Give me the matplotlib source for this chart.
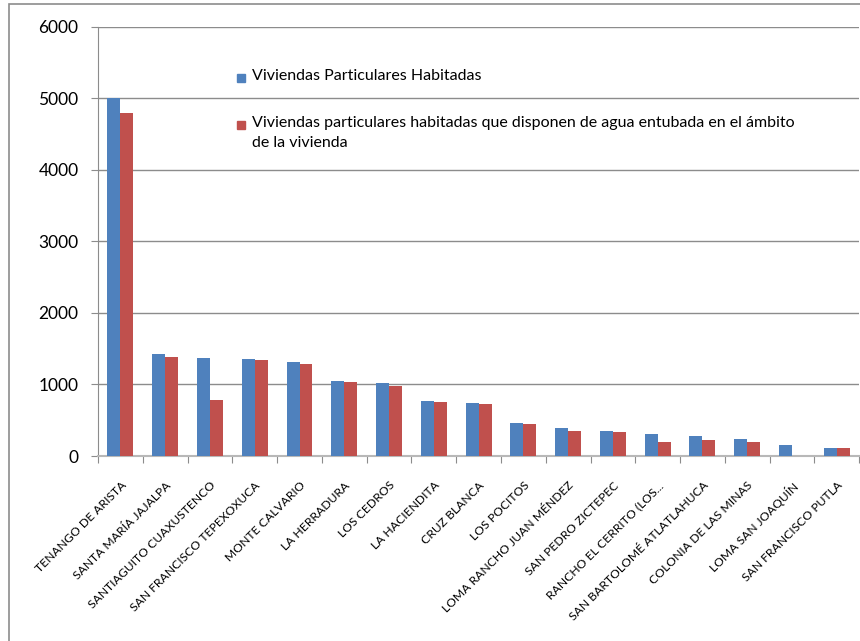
import matplotlib
matplotlib.use("Agg")
import matplotlib.pyplot as plt
from matplotlib.patches import Rectangle
import numpy as np

categories = ["TENANGO DE ARISTA", "SANTA MARÍA JAJALPA", "SANTIAGUITO CUAXUSTENCO",
              "SAN FRANCISCO TEPEXOXUCA", "MONTE CALVARIO", "LA HERRADURA", "LOS CEDROS",
              "LA HACIENDITA", "CRUZ BLANCA", "LOS POCITOS", "LOMA RANCHO JUAN MÉNDEZ",
              "SAN PEDRO ZICTEPEC", "RANCHO EL CERRITO (LOS...", "SAN BARTOLOMÉ ATLATLAHUCA",
              "COLONIA DE LAS MINAS", "LOMA SAN JOAQUÍN", "SAN FRANCISCO PUTLA"]
viviendas = [5010, 1420, 1370, 1360, 1317, 1047, 1020, 764, 740, 457, 387, 349, 307, 279, 237, 154, 107]
agua = [4800, 1380, 778, 1340, 1280, 1033, 982, 750, 726, 443, 349, 335, 200, 223, 200, 0, 107]
label_viv = "Viviendas Particulares Habitadas"
label_agua = "Viviendas particulares habitadas que disponen de agua entubada en el ámbito\nde la vivienda"
yticks = [0, 1000, 2000, 3000, 4000, 5000, 6000]

plt.rcParams['font.family'] = ['Lato', 'DejaVu Sans']

W, H = 860, 641
fig = plt.figure(figsize=(8.6, 6.41), dpi=100)
ax = fig.add_axes([0.114, 0.2886, 0.885, 0.6694])

x = np.arange(len(categories))
w = 0.29
blue = "#4F81BD"
red = "#C0504D"
ax.bar(x - w/2, viviendas, width=w, color=blue, zorder=3)
ax.bar(x + w/2, agua, width=w, color=red, zorder=3)

ax.set_xlim(-0.5, len(categories) - 0.5)
ax.set_ylim(0, 6000)
ax.set_yticks(yticks)
ax.set_yticklabels([str(v) for v in yticks], fontsize=12.5)
ax.yaxis.grid(True, color="#8c8c8c", linewidth=1.0, zorder=0)
ax.set_axisbelow(True)

ax.set_xticks(np.arange(len(categories) + 1) - 0.5)
ax.set_xticklabels([])
ax.set_xticks(x, minor=True)
ax.set_xticklabels(categories, minor=True, rotation=45, ha='right',
                   rotation_mode='anchor', fontsize=8.7)
ax.tick_params(axis='x', which='minor', length=0, pad=17)
ax.tick_params(axis='x', which='major', length=5, color="#8c8c8c")
ax.tick_params(axis='y', length=5, color="#8c8c8c", pad=9)

for s in ['top', 'right']:
    ax.spines[s].set_visible(False)
ax.spines['left'].set_color("#8c8c8c")
ax.spines['bottom'].set_color("#b8b8b8")
ax.spines['bottom'].set_linewidth(1.5)

# legend (manual, to match layout)
entries = [(blue, label_viv, 78), (red, label_agua, 125)]
for col, lab, yc in entries:
    fig.patches.append(Rectangle((237 / W, 1 - (yc + 4) / H), 8 / W, 8 / H,
                                 transform=fig.transFigure, color=col))
    fig.text(252 / W, 1 - (yc - 9) / H, lab, fontsize=11.5, va='top', ha='left',
             linespacing=1.55)

fig.patches.append(Rectangle((9 / W, -0.01), 1.0, 1 - 4 / H + 0.01,
                             transform=fig.transFigure, fill=False,
                             edgecolor="#8c8c8c", linewidth=1.2))

fig.savefig("out.png", dpi=100)
